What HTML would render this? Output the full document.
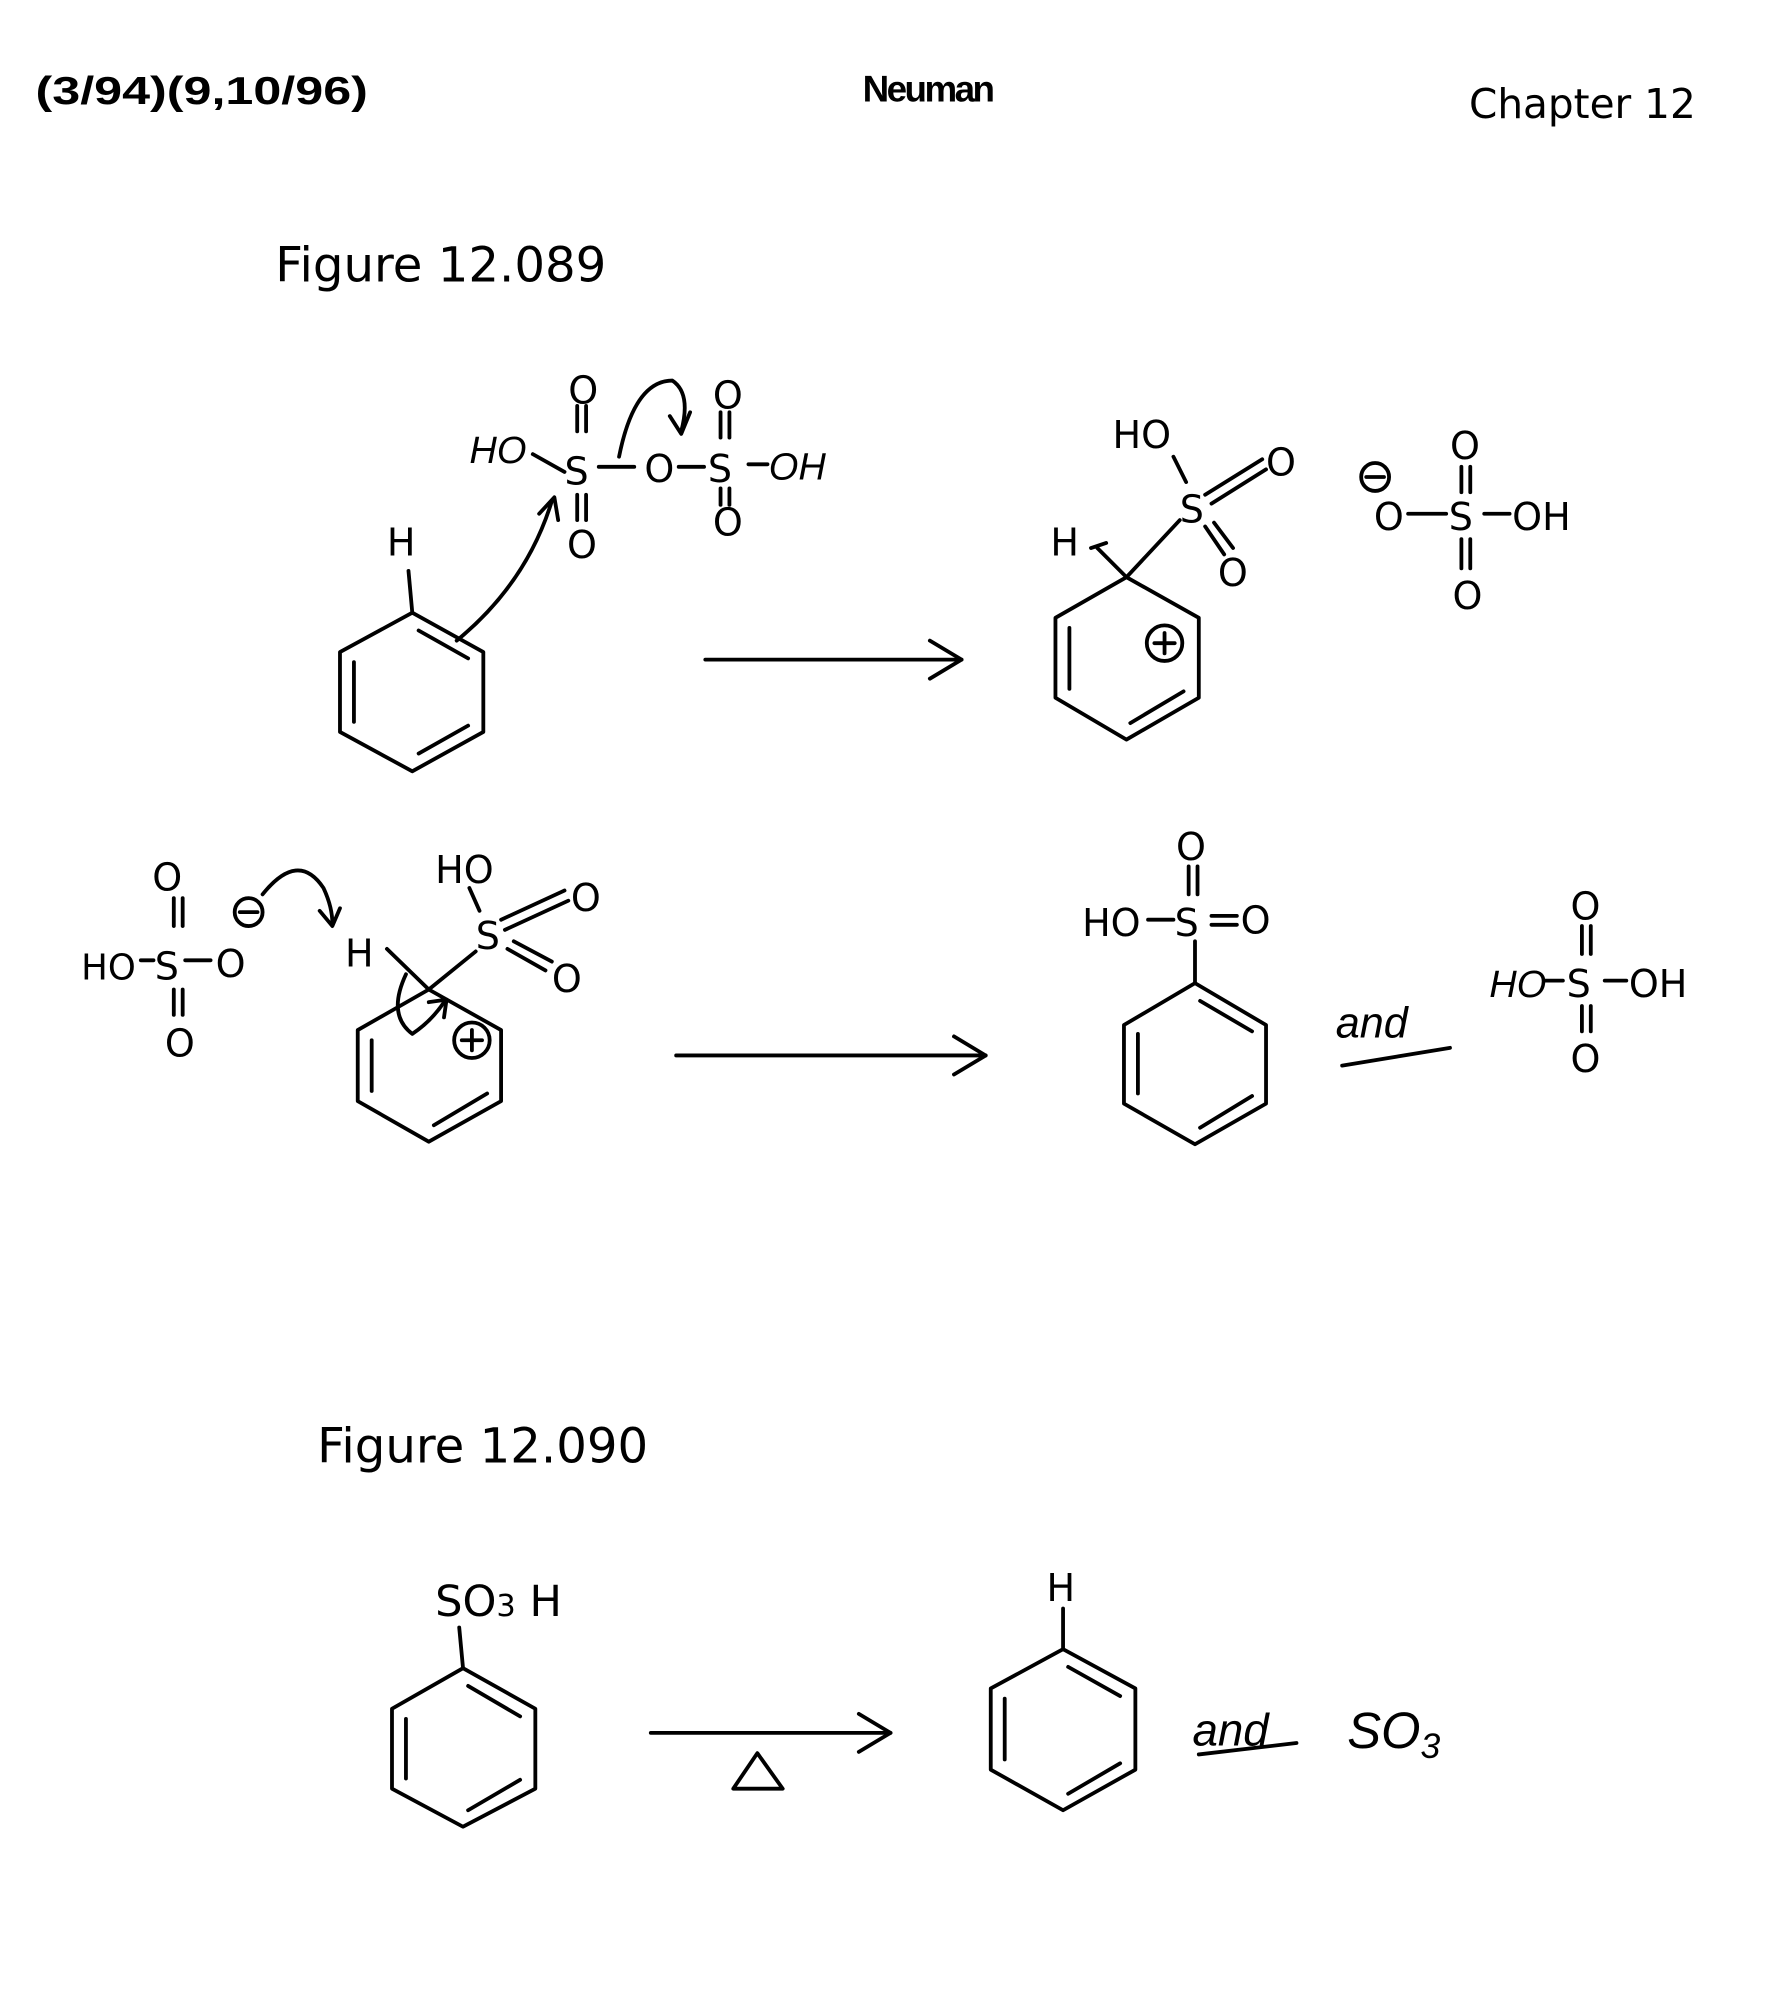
<!DOCTYPE html>
<html><head><meta charset="utf-8"><style>
html,body{margin:0;padding:0;background:#fff;}
svg{display:block}
text{font-family:"Liberation Sans",sans-serif;fill:#000}
.h{font-family:"DejaVu Sans","Liberation Sans",sans-serif;font-size:30px}
.hi{font-family:"Liberation Sans",sans-serif;font-style:italic;font-size:30px}
</style></head><body>
<svg width="1776" height="1998" viewBox="0 0 1400 1575" xmlns="http://www.w3.org/2000/svg">
<g fill="none" stroke="#000" stroke-width="3" stroke-linecap="round" stroke-linejoin="round">
<polygon points="325,483 381,514 381,577 325,608 268,577 268,514"/>
<line x1="279" y1="522" x2="279" y2="569"/><line x1="330" y1="594" x2="369" y2="572"/><line x1="330" y1="497" x2="369" y2="519"/>
<line x1="325" y1="483" x2="322" y2="450"/>
<path d="M360,505 Q415,460 435,395"/><path d="M425,405 L437,392 L440,410"/>
<line x1="420" y1="358" x2="445" y2="372"/><line x1="472" y1="368" x2="500" y2="368"/><line x1="535" y1="368" x2="555" y2="368"/><line x1="590" y1="366" x2="605" y2="366"/>
<line x1="455" y1="320" x2="455" y2="340"/><line x1="462" y1="320" x2="462" y2="340"/>
<line x1="455" y1="390" x2="455" y2="410"/><line x1="462" y1="390" x2="462" y2="410"/>
<line x1="568" y1="325" x2="568" y2="345"/><line x1="575" y1="325" x2="575" y2="345"/>
<line x1="568" y1="385" x2="568" y2="398"/><line x1="575" y1="385" x2="575" y2="398"/>
<path d="M488,360 Q500,300 530,300 Q545,310 537,340"/><path d="M528,328 L537,342 L544,325"/>
<line x1="556" y1="520" x2="758" y2="520"/><path d="M733,505 L758,520 L733,535"/>
<polygon points="888,455 945,487 945,550 888,583 832,550 832,487"/>
<line x1="843" y1="495" x2="843" y2="543"/><line x1="891" y1="570" x2="933" y2="545"/>
<circle cx="918" cy="507" r="14"/><line x1="910" y1="507" x2="926" y2="507"/><line x1="918" y1="499" x2="918" y2="515"/>
<line x1="888" y1="455" x2="930" y2="410"/><path d="M888,455 L865,432"/><path d="M860,432 L872,428"/>
<line x1="925" y1="360" x2="935" y2="380"/><line x1="950" y1="390" x2="995" y2="362"/><line x1="955" y1="397" x2="998" y2="370"/>
<line x1="950" y1="415" x2="965" y2="437"/><line x1="957" y1="412" x2="972" y2="432"/>
<circle cx="1084" cy="376" r="11"/><line x1="1077" y1="376" x2="1091" y2="376"/>
<line x1="1110" y1="405" x2="1140" y2="405"/><line x1="1170" y1="405" x2="1190" y2="405"/>
<line x1="1152" y1="368" x2="1152" y2="388"/><line x1="1159" y1="368" x2="1159" y2="388"/>
<line x1="1152" y1="425" x2="1152" y2="448"/><line x1="1159" y1="425" x2="1159" y2="448"/>
<line x1="111" y1="757" x2="121" y2="757"/><line x1="146" y1="757" x2="166" y2="757"/>
<line x1="137" y1="708" x2="137" y2="730"/><line x1="144" y1="708" x2="144" y2="730"/>
<line x1="137" y1="780" x2="137" y2="800"/><line x1="144" y1="780" x2="144" y2="800"/>
<circle cx="196" cy="719" r="11"/><line x1="189" y1="719" x2="203" y2="719"/>
<path d="M207,705 Q235,670 255,700 Q262,715 262,728"/><path d="M252,718 L262,730 L268,716"/>
<polygon points="338,780 395,812 395,868 338,900 282,868 282,812"/>
<line x1="293" y1="820" x2="293" y2="860"/><line x1="342" y1="887" x2="384" y2="862"/>
<circle cx="372" cy="820" r="14"/><line x1="364" y1="820" x2="380" y2="820"/><line x1="372" y1="812" x2="372" y2="828"/>
<line x1="338" y1="780" x2="375" y2="750"/><line x1="305" y1="748" x2="338" y2="780"/>
<path d="M320,768 Q305,800 325,815 Q340,805 350,790"/><path d="M338,790 L352,788 L350,802"/>
<line x1="370" y1="700" x2="378" y2="718"/><line x1="395" y1="725" x2="445" y2="702"/><line x1="398" y1="733" x2="448" y2="710"/>
<line x1="400" y1="748" x2="430" y2="765"/><line x1="405" y1="742" x2="435" y2="758"/>
<line x1="533" y1="832" x2="777" y2="832"/><path d="M752,817 L777,832 L752,847"/>
<polygon points="942,775 998,808 998,870 942,902 886,870 886,808"/>
<line x1="897" y1="815" x2="897" y2="862"/><line x1="946" y1="889" x2="987" y2="864"/><line x1="946" y1="789" x2="987" y2="813"/>
<line x1="942" y1="775" x2="942" y2="742"/>
<line x1="905" y1="725" x2="925" y2="725"/><line x1="955" y1="722" x2="975" y2="722"/><line x1="955" y1="729" x2="975" y2="729"/>
<line x1="937" y1="683" x2="937" y2="705"/><line x1="944" y1="683" x2="944" y2="705"/>
<line x1="1058" y1="840" x2="1143" y2="826"/>
<line x1="1218" y1="773" x2="1232" y2="773"/><line x1="1265" y1="773" x2="1282" y2="773"/>
<line x1="1247" y1="730" x2="1247" y2="752"/><line x1="1254" y1="730" x2="1254" y2="752"/>
<line x1="1247" y1="793" x2="1247" y2="813"/><line x1="1254" y1="793" x2="1254" y2="813"/>
<polygon points="365,1315 422,1347 422,1410 365,1440 309,1410 309,1347"/>
<line x1="320" y1="1355" x2="320" y2="1402"/><line x1="369" y1="1427" x2="410" y2="1403"/><line x1="369" y1="1329" x2="410" y2="1353"/>
<line x1="365" y1="1315" x2="362" y2="1283"/>
<line x1="513" y1="1366" x2="702" y2="1366"/><path d="M677,1351 L702,1366 L677,1381"/>
<polygon points="578,1410 597,1382 617,1410"/>
<polygon points="838,1300 895,1331 895,1395 838,1427 781,1395 781,1331"/>
<line x1="792" y1="1339" x2="792" y2="1387"/><line x1="842" y1="1414" x2="883" y2="1390"/><line x1="842" y1="1314" x2="883" y2="1337"/>
<line x1="838" y1="1300" x2="838" y2="1268"/>
<line x1="945" y1="1383" x2="1022" y2="1374"/>
</g>
<text x="28" y="82" textLength="262" lengthAdjust="spacingAndGlyphs" style="font-weight:bold;font-size:31px">(3/94)(9,10/96)</text>
<text x="680" y="80" style="font-weight:bold;font-size:29px;letter-spacing:-2px">Neuman</text>
<text x="1158" y="93" style="font-size:32px" class="h">Chapter 12</text>
<text x="217" y="222" class="h" style="font-size:38px">Figure 12.089</text>
<text x="250" y="1153" class="h" style="font-size:38px">Figure 12.090</text>
<text x="305" y="438" class="h">H</text>
<text x="370" y="365" class="hi">HO</text>
<text x="445" y="382" class="h">S</text>
<text x="448" y="318" class="h">O</text><text x="447" y="440" class="h">O</text>
<text x="508" y="380" class="h">O</text>
<text x="558" y="380" class="h">S</text>
<text x="562" y="322" class="h">O</text><text x="562" y="422" class="h">O</text>
<text x="606" y="378" class="hi">OH</text>
<text x="877" y="353" class="h">HO</text>
<text x="828" y="438" class="h">H</text>
<text x="930" y="412" class="h">S</text>
<text x="998" y="375" class="h">O</text><text x="960" y="462" class="h">O</text>
<text x="1083" y="418" class="h">O</text><text x="1142" y="418" class="h">S</text><text x="1192" y="418" class="h">OH</text>
<text x="1143" y="362" class="h">O</text><text x="1145" y="480" class="h">O</text>
<text x="64" y="772" class="h" style="font-size:28px">HO</text><text x="122" y="772" class="h">S</text><text x="170" y="770" class="h">O</text>
<text x="120" y="702" class="h">O</text><text x="130" y="833" class="h">O</text>
<text x="272" y="762" class="h">H</text>
<text x="343" y="696" class="h">HO</text><text x="375" y="748" class="h">S</text>
<text x="450" y="718" class="h">O</text><text x="435" y="782" class="h">O</text>
<text x="853" y="738" class="h">HO</text><text x="926" y="738" class="h">S</text><text x="978" y="736" class="h">O</text>
<text x="927" y="678" class="h">O</text>
<text x="1053" y="818" class="hi" style="font-size:34px">and</text>
<text x="1174" y="786" class="hi">HO</text><text x="1235" y="786" class="h">S</text><text x="1284" y="786" class="h">OH</text>
<text x="1238" y="725" class="h">O</text><text x="1238" y="845" class="h">O</text>
<text x="343" y="1274" class="h" style="font-size:34px">SO<tspan font-size="24">3</tspan> H</text>
<text x="825" y="1262" class="h">H</text>
<text x="940" y="1376" class="hi" style="font-size:36px">and</text>
<text x="1062" y="1378" class="hi" style="font-size:40px">SO<tspan font-size="28" dy="8">3</tspan></text>
</svg>
</body></html>
